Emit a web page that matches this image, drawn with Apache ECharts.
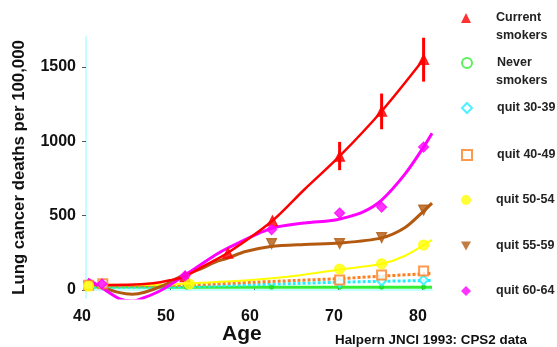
<!DOCTYPE html>
<html>
<head>
<meta charset="utf-8">
<script src="https://cdn.jsdelivr.net/npm/echarts@6/dist/echarts.min.js"></script>
<style>
  html, body { margin: 0; padding: 0; background: #fff; }
  #chart { width: 557px; height: 347px; }
</style>
</head>
<body>
<div id="chart"></div>
<script>
  // tick labels
  var yTicks = [0, 500, 1000, 1500];
  var xTicks = [40, 50, 60, 70, 80];
  var legendNames = ['Current smokers', 'Never smokers', 'quit 30-39', 'quit 40-49', 'quit 50-54', 'quit 55-59', 'quit 60-64'];

  // [age, deaths per 100,000] markers, and fitted curves
  var currentPts = [[51.8, 90], [56.9, 248], [62.2, 465], [70.2, 899], [75.2, 1201], [80.2, 1550]];
  var currentErr = [[70.2, 805, 995], [75.2, 1080, 1320], [80.2, 1400, 1695]];
  var currentFit = [[42, 34], [45, 35], [48, 45], [50, 65], [51.8, 92], [54, 160], [56.9, 250], [62.2, 465], [66, 675], [70.2, 899], [75.2, 1201], [80.2, 1550]];

  var neverPts = [[52, 19], [62.1, 19], [70.2, 19], [75.2, 19], [80.2, 19]];
  var neverFit = [[40.2, 20], [50, 19], [60, 19], [70, 19], [81.2, 19]];

  var quit3039Pts = [[70.2, 48], [75.2, 60], [80.2, 67]];
  var quit3039Fit = [[40.2, 18], [50, 20], [55, 27], [60, 35], [65, 43], [70, 52], [75, 58], [81.2, 64]];

  var quit4049Pts = [[40.3, 32], [42, 42], [70.2, 67], [75.2, 100], [80.2, 128]];
  var quit4049Fit = [[40.2, 32], [45, 28], [50, 30], [55, 40], [60, 52], [65, 64], [70, 76], [75, 92], [81.2, 112]];

  var quit5054Pts = [[40.3, 25], [52.3, 40], [70.2, 141], [75.2, 176], [80.2, 302]];
  var quit5054Fit = [[40.2, 40], [45, 34], [50, 37], [55, 52], [60, 69], [65, 95], [70, 136], [75.2, 176], [78, 230], [81.2, 336]];

  var quit5559Pts = [[62.1, 312], [70.2, 312], [75.2, 352], [80.2, 537]];
  var quit5559Fit = [[40.2, 60], [42, 18], [44, -18], [45.5, -28], [47, -15], [49, 25], [51.8, 105], [53.6, 140], [55.4, 188], [56.9, 215], [59, 258], [62, 292], [66, 306], [70.2, 315], [75.2, 350], [78, 420], [80.2, 530], [81.2, 584]];

  var quit6064Pts = [[41.9, 40], [51.8, 95], [62.1, 406], [70.2, 517], [75.2, 557], [80.2, 960]];
  var quit6064Fit = [[40.2, 74], [42, 10], [44, -60], [45.5, -75], [47, -50], [49, 0], [51.8, 100], [55.4, 235], [56.9, 282], [62, 412], [66, 450], [69, 465], [70.2, 476], [73, 525], [75.2, 604], [78, 780], [80.2, 960], [81.2, 1053]];

  var FONT = '"Liberation Sans", Arial, sans-serif';

  function fit(name, data, color, width, dash) {
    return {
      name: name,
      type: 'line',
      smooth: 0.3,
      showSymbol: false,
      silent: true,
      data: data,
      lineStyle: { color: color, width: width, type: dash ? [3, 2] : 'solid' },
      z: 2
    };
  }

  function marks(name, data, symbol, color, size, rotate) {
    return {
      name: name,
      type: 'scatter',
      symbol: symbol,
      symbolSize: size,
      symbolRotate: rotate || 0,
      data: data,
      itemStyle: { color: color, borderColor: color, borderWidth: 1.2 },
      z: 5
    };
  }

  // legend: one component per entry so the rows land where the picture has them;
  // the second word of the two-line entries is put below as plain text
  var legendRows = [17, 62, 107, 154, 199, 245, 290];
  var legendIcons = ['triangle', 'emptyCircle', 'emptyDiamond', 'emptyRect', 'circle', 'path://M0,0 L10,0 L5,9 Z', 'diamond'];
  var legendColors = ['#ff0000', '#33ee33', '#22eeff', '#ff8020', '#ffff00', '#b35a10', '#ff00ff'];
  var legends = legendNames.map(function (n, i) {
    var twoLine = i < 2;
    return {
      data: [{ name: n, icon: legendIcons[i], itemStyle: { color: legendColors[i], borderWidth: 0 } }],
      left: 461,
      top: legendRows[i] - 10,
      padding: 0,
      itemWidth: 10,
      itemHeight: 10,
      selectedMode: false,
      formatter: function (s) { return twoLine ? s.split(' ')[0] : s; },
      textStyle: {
        fontFamily: FONT, fontWeight: 'bold', fontSize: 12.5, color: '#222',
        lineHeight: 17, padding: [5, 0, 0, 20]
      }
    };
  });
  var secondLines = legendNames.slice(0, 2).map(function (n, i) {
    return { type: 'text', left: 496, top: legendRows[i] + 12.5, style: { text: n.split(' ')[1], font: 'bold 12.5px ' + FONT, fill: '#222' } };
  });

  var chart = echarts.init(document.getElementById('chart'));
  chart.setOption({
    animation: false,
    backgroundColor: '#fff',
    legend: legends,
    grid: { left: 86, right: 125, top: 37, bottom: 49 },
    xAxis: {
      type: 'value',
      min: 40,
      max: 81.2,
      axisLine: { show: true, lineStyle: { color: '#c4ffff', width: 2 } },
      axisTick: { show: true, inside: true, length: 5, customValues: xTicks.slice(1), lineStyle: { color: '#666' } },
      axisLabel: { customValues: xTicks, fontFamily: FONT, fontWeight: 'bold', fontSize: 16, color: '#111', margin: 11, padding: [0, 8, 0, 0] },
      splitLine: { show: false }
    },
    yAxis: {
      type: 'value',
      min: -54,
      max: 1700,
      name: 'Lung cancer deaths per 100,000',
      nameLocation: 'middle',
      nameGap: 58,
      nameTextStyle: { fontFamily: FONT, fontWeight: 'bold', fontSize: 16.8, color: '#111' },
      axisLine: { show: true, lineStyle: { color: '#c4ffff', width: 2 } },
      axisTick: { show: true, length: 4, customValues: yTicks, lineStyle: { color: '#555' } },
      axisLabel: {
        customValues: yTicks, fontFamily: FONT, fontWeight: 'bold', fontSize: 16, color: '#111', margin: 10, padding: [8, 0, 0, 0],
        formatter: function (v) { return String(v); }
      },
      splitLine: { show: false }
    },
    graphic: [
      { type: 'text', left: 222, top: 324, style: { text: 'Age', font: 'bold 21px ' + FONT, fill: '#111' } },
      { type: 'text', left: 335, top: 334, style: { text: 'Halpern JNCI 1993: CPS2 data', font: 'bold 13.4px ' + FONT, fill: '#111' } }
    ].concat(secondLines),
    series: [
      fit('f-never', neverFit, '#33ee33', 3, false),
      fit('f-3039', quit3039Fit, '#22eeff', 3, true),
      fit('f-4049', quit4049Fit, '#ff8020', 3, true),
      fit('f-5054', quit5054Fit, '#ffff00', 2, false),
      fit('f-5559', quit5559Fit, '#b35a10', 3, false),
      fit('f-6064', quit6064Fit, '#ff00ff', 3, false),
      fit('f-current', currentFit, '#ff0000', 2.5, false),
      {
        name: 'err',
        type: 'custom',
        silent: true,
        data: currentErr,
        encode: { x: 0, y: [1, 2] },
        renderItem: function (params, api) {
          var a = api.coord([api.value(0), api.value(1)]);
          var b = api.coord([api.value(0), api.value(2)]);
          return { type: 'line', shape: { x1: a[0], y1: a[1], x2: b[0], y2: b[1] }, style: { stroke: '#ff0000', lineWidth: 3 } };
        },
        z: 4
      },
      marks('Current smokers', currentPts, 'triangle', '#ff0000', 10),
      marks('Never smokers', neverPts, 'circle', '#22dd22', 4),
      marks('quit 30-39', quit3039Pts, 'emptyDiamond', '#22eeff', 9),
      marks('quit 40-49', quit4049Pts, 'emptyRect', '#ff8020', 9),
      marks('quit 50-54', quit5054Pts, 'circle', '#ffff00', 10),
      marks('quit 55-59', quit5559Pts, 'triangle', '#b35a10', 10, 180),
      marks('quit 60-64', quit6064Pts, 'diamond', '#ff00ff', 10)
    ]
  });
</script>
</body>
</html>
